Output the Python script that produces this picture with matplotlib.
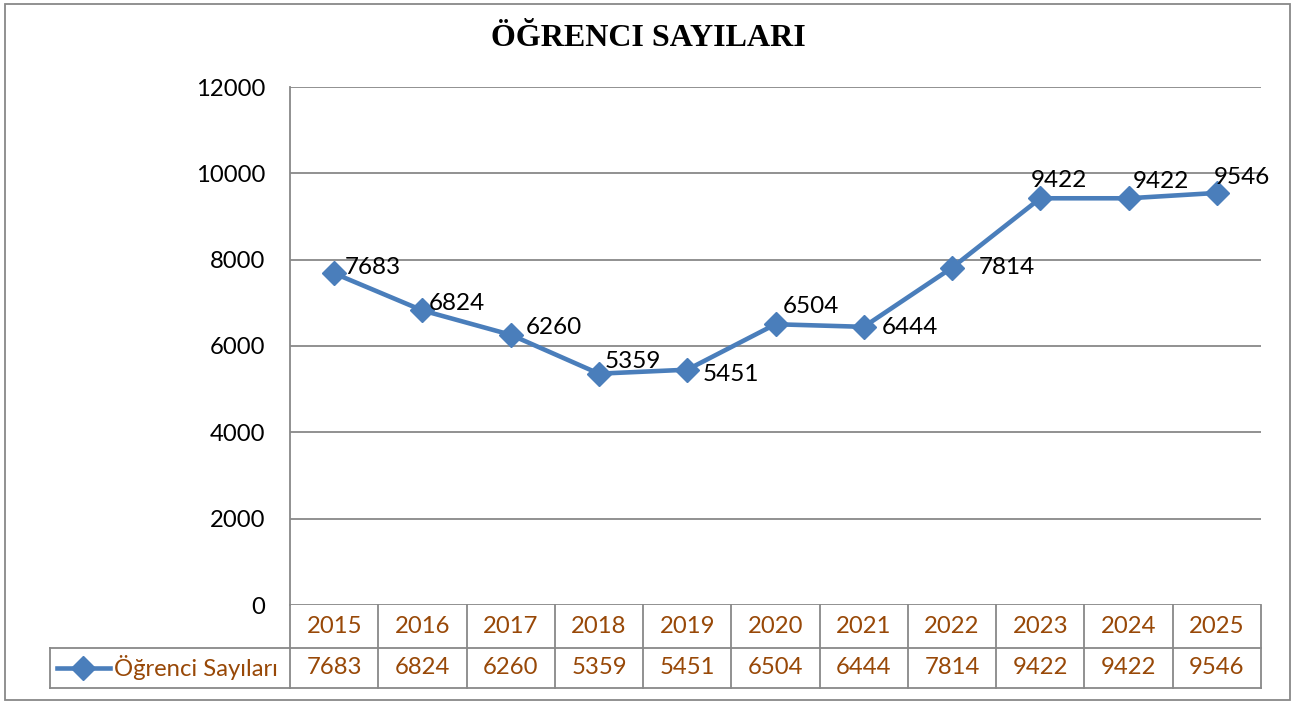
# -*- coding: utf-8 -*-

import matplotlib
matplotlib.use('Agg')
import matplotlib.pyplot as plt
import matplotlib.transforms as mtrans
from matplotlib.lines import Line2D
from matplotlib.patches import Rectangle

years = ['2015', '2016', '2017', '2018', '2019', '2020', '2021', '2022', '2023', '2024', '2025']
students = [7683, 6824, 6260, 5359, 5451, 6504, 6444, 7814, 9422, 9422, 9546]
series_name = 'Öğrenci Sayıları'
title = 'ÖĞRENCI SAYILARI'

# label offsets in pixels (left edge of text, vertical centre) relative to each point
label_offsets = [(11, -6), (6, -7), (15, -7), (6, -12), (15, 5), (7, -18),
                 (18, 1), (27, 0), (-10, -18), (4, -17), (-3, -15)]

W, H = 1295, 704
line_color = '#4A7EBB'
grid_color = '#888888'
table_color = '#984807'
font = 'Lato'

fig = plt.figure(figsize=(W / 100, H / 100), dpi=100)
x0, x1, ytop, ybot = 290, 1261, 87, 605
ax = fig.add_axes([x0 / W, 1 - ybot / H, (x1 - x0) / W, (ybot - ytop) / H])

xs = list(range(len(years)))
ax.plot(xs, students, color=line_color, lw=3.3, marker='D', markersize=12,
        markerfacecolor=line_color, markeredgecolor=line_color, zorder=3)

ax.set_xlim(-0.5, len(years) - 0.5)
ax.set_ylim(0, 12000)
ax.set_yticks(range(0, 12001, 2000))
ax.set_yticklabels([str(v) for v in range(0, 12001, 2000)], fontsize=17.2, family=font)
ax.tick_params(axis='y', length=0, pad=18)
ax.set_xticks([])
ax.grid(axis='y', color=grid_color, lw=1.3)
ax.set_axisbelow(True)
for s in ['top', 'right', 'bottom']:
    ax.spines[s].set_visible(False)
ax.spines['left'].set_color(grid_color)
ax.spines['left'].set_linewidth(1.3)

for i, v in enumerate(students):
    dx, dy = label_offsets[i]
    ax.annotate(str(v), (i, v), xytext=(dx * 0.72, -dy * 0.72), textcoords='offset points',
                ha='left', va='center', fontsize=17.5, family=font, color='black')

# data table under the plot
ah = ybot - ytop
aw = x1 - x0
r1 = -(648 - ybot) / ah
r2 = -(688 - ybot) / ah
leg_left = (50 - x0) / aw
blend = mtrans.blended_transform_factory(ax.transData, ax.transAxes)
for k in range(len(years) + 1):
    ax.add_line(Line2D([k - 0.5, k - 0.5], [0, r2], transform=blend, color=grid_color,
                       lw=1.3, clip_on=False))
ax.add_line(Line2D([0, 1], [r1, r1], transform=ax.transAxes, color=grid_color, lw=1.3, clip_on=False))
ax.add_line(Line2D([0, 1], [r2, r2], transform=ax.transAxes, color=grid_color, lw=1.3, clip_on=False))
ax.add_line(Line2D([leg_left, 0], [r1, r1], transform=ax.transAxes, color=grid_color, lw=1.3, clip_on=False))
ax.add_line(Line2D([leg_left, 0], [r2, r2], transform=ax.transAxes, color=grid_color, lw=1.3, clip_on=False))
ax.add_line(Line2D([leg_left, leg_left], [r1, r2], transform=ax.transAxes, color=grid_color, lw=1.3, clip_on=False))

for i, (yr, v) in enumerate(zip(years, students)):
    ax.text(i, r1 / 2, yr, transform=blend, ha='center', va='center', fontsize=17.2,
            family=font, color=table_color)
    ax.text(i, (r1 + r2) / 2, str(v), transform=blend, ha='center', va='center', fontsize=17.2,
            family=font, color=table_color)

# legend key in the table
ym = (r1 + r2) / 2
ax.add_line(Line2D([(57 - x0) / aw, (110 - x0) / aw], [ym, ym], transform=ax.transAxes,
                   color=line_color, lw=3.3, clip_on=False))
ax.add_line(Line2D([(83 - x0) / aw], [ym], transform=ax.transAxes, marker='D', markersize=12,
                   color=line_color, clip_on=False))
ax.text((114 - x0) / aw, ym, series_name, transform=ax.transAxes, ha='left', va='center',
        fontsize=17.2, family=font, color=table_color)

fig.text(648 / W, 1 - 38 / H, title, ha='center', va='center', fontsize=23,
         family='Liberation Serif', fontweight='bold')

fig.patches.append(Rectangle((5 / W, 4 / H), 1285 / W, 696 / H, transform=fig.transFigure,
                             fill=False, edgecolor=grid_color, lw=1.3))

fig.savefig('out.png', dpi=100)
